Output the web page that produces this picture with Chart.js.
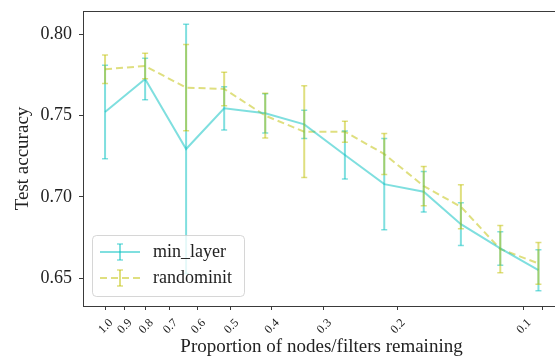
<!DOCTYPE html>
<html><head><meta charset="utf-8">
<script src="https://cdn.jsdelivr.net/npm/chart.js@4/dist/chart.umd.min.js"></script>
<style>html,body{margin:0;padding:0;overflow:hidden;background:#fff;width:555px;height:360px}
canvas{display:block}</style></head><body>
<canvas id="c" width="560" height="360" style="width:560px;height:360px"></canvas>
<script>
// ---- data ----
const proportions = [1.0, 0.802, 0.640, 0.519, 0.414, 0.334, 0.267, 0.215, 0.173, 0.141, 0.1135, 0.092];
const minLayer    = [0.7522, 0.7725, 0.7295, 0.7545, 0.7514, 0.7446, 0.7258, 0.7079, 0.7032, 0.6833, 0.6684, 0.6550];
const minLayerErr = [0.0287, 0.0128, 0.0766, 0.0133, 0.0121, 0.0087, 0.0148, 0.0280, 0.0125, 0.0131, 0.0103, 0.0126];
const randomInit    = [0.7785, 0.7805, 0.7672, 0.7664, 0.7500, 0.7401, 0.7401, 0.7264, 0.7067, 0.6940, 0.6680, 0.6592];
const randomInitErr = [0.0087, 0.0078, 0.0265, 0.0103, 0.0137, 0.0282, 0.0065, 0.0126, 0.0121, 0.0135, 0.0145, 0.0128];
const xTickValues = [1.0, 0.9, 0.8, 0.7, 0.6, 0.5, 0.4, 0.3, 0.2, 0.1, 0.09];
const xTickLabels = ['1.0','0.9','0.8','0.7','0.6','0.5','0.4','0.3','0.2','0.1',''];
const yTickValues = [0.65, 0.70, 0.75, 0.80];
const yTickLabels = ['0.65','0.70','0.75','0.80'];
const seriesNames = ['min_layer', 'randominit'];

const CYAN = 'rgba(0,191,191,0.5)';
const YEL = 'rgba(191,191,0,0.5)';
const SPINE = '#3a3a3a';
const SERIF = '"Liberation Serif", "DejaVu Serif", serif';

const series = [
  {name: seriesNames[0], y: minLayer, err: minLayerErr, color: CYAN, dash: []},
  {name: seriesNames[1], y: randomInit, err: randomInitErr, color: YEL, dash: [7,4]}
];

const errorBars = {
  id: 'errorBars',
  afterDatasetsDraw(chart) {
    const {ctx, scales: {x, y}} = chart;
    ctx.save();
    series.forEach(s => {
      ctx.strokeStyle = s.color;
      ctx.setLineDash([]);
      s.y.forEach((v, i) => {
        const px = x.getPixelForValue(proportions[i]);
        const top = y.getPixelForValue(v + s.err[i]);
        const bot = y.getPixelForValue(v - s.err[i]);
        ctx.lineWidth = 2;
        ctx.beginPath(); ctx.moveTo(px, top); ctx.lineTo(px, bot); ctx.stroke();
        ctx.lineWidth = 1.5;
        ctx.beginPath();
        ctx.moveTo(px - 3, top); ctx.lineTo(px + 3, top);
        ctx.moveTo(px - 3, bot); ctx.lineTo(px + 3, bot);
        ctx.stroke();
      });
    });
    ctx.restore();
  },
  afterDraw(chart) {
    const {ctx, chartArea: a} = chart;
    ctx.save();
    ctx.strokeStyle = SPINE; ctx.lineWidth = 1;
    ctx.beginPath();
    ctx.moveTo(a.left, a.top + 0.5); ctx.lineTo(a.right, a.top + 0.5);
    ctx.stroke();
    // legend
    const lx = 92.5, ly = 235.5, lw = 152, lh = 61, r = 4;
    ctx.beginPath();
    ctx.moveTo(lx + r, ly);
    ctx.arcTo(lx + lw, ly, lx + lw, ly + lh, r);
    ctx.arcTo(lx + lw, ly + lh, lx, ly + lh, r);
    ctx.arcTo(lx, ly + lh, lx, ly, r);
    ctx.arcTo(lx, ly, lx + lw, ly, r);
    ctx.closePath();
    ctx.fillStyle = 'rgba(255,255,255,0.8)';
    ctx.fill();
    ctx.strokeStyle = 'rgba(204,204,204,0.8)';
    ctx.stroke();
    const rows = [252, 278];
    series.forEach((s, k) => {
      const cy = rows[k];
      ctx.strokeStyle = s.color;
      ctx.lineWidth = 2;
      ctx.setLineDash(s.dash);
      ctx.beginPath(); ctx.moveTo(100, cy); ctx.lineTo(140, cy); ctx.stroke();
      ctx.setLineDash([]);
      ctx.beginPath(); ctx.moveTo(120, cy - 8); ctx.lineTo(120, cy + 8); ctx.stroke();
      ctx.lineWidth = 1.5;
      ctx.beginPath();
      ctx.moveTo(117, cy - 8); ctx.lineTo(123, cy - 8);
      ctx.moveTo(117, cy + 8); ctx.lineTo(123, cy + 8);
      ctx.stroke();
      ctx.fillStyle = '#222';
      ctx.font = '18px ' + SERIF;
      ctx.textBaseline = 'middle';
      ctx.textAlign = 'left';
      ctx.fillText(s.name, 153, cy);
    });
    ctx.restore();
  }
};

new Chart(document.getElementById('c'), {
  type: 'line',
  data: {
    datasets: series.map(s => ({
      label: s.name,
      data: proportions.map((p, i) => ({x: p, y: s.y[i]})),
      borderColor: s.color,
      borderWidth: 2,
      borderDash: s.dash,
      pointRadius: 0,
      tension: 0,
      fill: false
    }))
  },
  options: {
    responsive: false,
    animation: false,
    devicePixelRatio: 1,
    layout: {padding: {top: 11, right: 0, bottom: 0, left: 0}},
    plugins: {legend: {display: false}, tooltip: {enabled: false}},
    scales: {
      x: {
        type: 'logarithmic',
        reverse: true,
        min: 0.0817, max: 1.129,
        afterBuildTicks: sc => { sc.ticks = xTickValues.map(v => ({value: v})); },
        afterFit: sc => { sc.height = 54; sc.paddingLeft = 0; sc.paddingRight = 0; },
        ticks: {
          autoSkip: false, minRotation: 45, maxRotation: 45,
          padding: 6, labelOffset: 6,
          color: '#222',
          font: {family: SERIF, size: 12},
          callback: (v, i) => xTickLabels[i]
        },
        grid: {drawOnChartArea: false, drawTicks: true, tickLength: 4, color: SPINE},
        border: {display: true, color: SPINE, width: 1},
        title: {display: true, text: 'Proportion of nodes/filters remaining', color: '#222',
                font: {family: SERIF, size: 19}, padding: {top: 0, bottom: 1.5}}
      },
      y: {
        type: 'linear',
        min: 0.633, max: 0.8143,
        afterBuildTicks: sc => { sc.ticks = yTickValues.map(v => ({value: v})); },
        afterFit: sc => { sc.width = 83; sc.paddingTop = 0; sc.paddingBottom = 0; },
        ticks: {
          padding: 7, color: '#222',
          font: {family: SERIF, size: 18},
          callback: (v, i) => yTickLabels[i]
        },
        grid: {drawOnChartArea: false, drawTicks: true, tickLength: 4, color: SPINE},
        border: {display: true, color: SPINE, width: 1},
        title: {display: true, text: 'Test accuracy', color: '#222',
                font: {family: SERIF, size: 19}, padding: {top: 11.5, bottom: 0}}
      }
    }
  },
  plugins: [errorBars]
});
</script></body></html>
